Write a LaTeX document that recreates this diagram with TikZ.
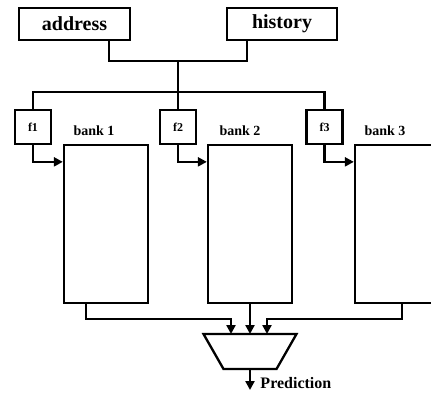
\documentclass[tikz,border=0pt]{standalone}
\usepackage{fontspec}
\setmainfont{Liberation Serif}
\usetikzlibrary{calc, arrows.meta}

\begin{document}
\begin{tikzpicture}[x=1pt, y=-1pt, line width=2.3pt,
		inbox/.style={draw, minimum height=32pt, inner sep=0pt, font=\bfseries\fontsize{20}{22}\selectfont},
		hashbox/.style={draw, minimum width=36pt, minimum height=34pt, inner sep=0pt, font=\bfseries\fontsize{12}{14}\selectfont},
		bankbox/.style={draw, minimum width=84pt, minimum height=158pt},
		banklabel/.style={font=\bfseries\fontsize{14}{16}\selectfont},
		wire/.style={-{Triangle[length=9pt, width=9pt]}}]
		
		%definition of the frame (bank 3 runs off the right side)
		\useasboundingbox (0,0) rectangle (431,392);
		\clip (0,0) rectangle (431,392);
		
		%inputs
		\node [inbox, minimum width=111pt] (addr) at (74.5,24) {address};
		\node [inbox, minimum width=110pt] (hist) at (282,24) {history};
		
		%hash functions
		\node [hashbox] (f1) at (33,127) {f1};
		\node [hashbox] (f2) at (178,127) {f2};
		\node [hashbox] (f3) at (324.5,127) {f3};
		
		%banks
		\node [bankbox] (bank1) at (106,224) {};
		\node [bankbox] (bank2) at (250,224) {};
		\node [bankbox] (bank3) at (397,224) {};
		\node [banklabel] (lab1) at (94,131) {bank 1};
		\node [banklabel] (lab2) at (240,131) {bank 2};
		\node [banklabel] (lab3) at (385,131) {bank 3};
		
		%vote
		\coordinate (mux) at (250,351.5);
		\draw [line join=miter] (mux) ++(-46.5,-17.5) -- ++(93,0) -- ++(-20,35) -- ++(-53,0) -- cycle;
		
		%wiring of the inputs
		\coordinate (join) at (178,61);
		\coordinate (split) at (178,92);
		\draw ([xshift=-22pt]addr.south east) |- (join);
		\draw ([xshift=21pt]hist.south west) |- (join);
		\draw (join) -- (split);
		\draw (f1.north) |- (split) -| (f3.north);
		\draw (split) -- (f2.north);
		
		\foreach \i in {1,2,3}
			\draw [wire] (f\i.south) |- ([yshift=-18pt]bank\i.north west);
		
		%wiring of the outputs
		\draw [wire] ([xshift=23pt]bank1.south west) -- ++(0,15) -| ([xshift=-19pt, yshift=17.5pt]mux);
		\draw [wire] (bank2.south) -- ([yshift=17.5pt]mux);
		\draw [wire] ([xshift=48pt]bank3.south west) -- ++(0,15) -| ([xshift=17pt, yshift=17.5pt]mux);
		
		\coordinate (out) at (250,390);
		\draw [wire] ([yshift=-17.5pt]mux) -- (out);
		\node [anchor=west, font=\bfseries\fontsize{16}{18}\selectfont] (pred) at (256,383) {Prediction};
	\end{tikzpicture}
\end{document}
